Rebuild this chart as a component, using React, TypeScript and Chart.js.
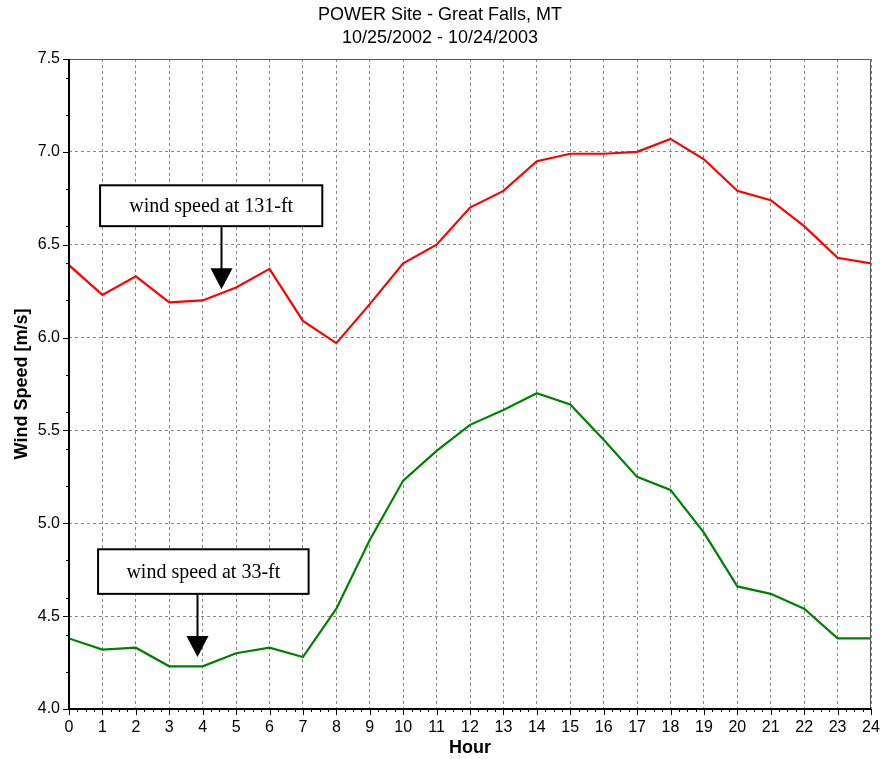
import React, { useEffect, useRef } from "react";
import { Chart, registerables } from "chart.js";

Chart.register(...registerables);

const hours: number[] = Array.from({ length: 25 }, (_, i) => i);
const speed131ft: number[] = [
  6.39, 6.23, 6.33, 6.19, 6.2, 6.27, 6.37, 6.09, 5.97, 6.18, 6.4, 6.5, 6.7,
  6.79, 6.95, 6.99, 6.99, 7.0, 7.07, 6.96, 6.79, 6.74, 6.6, 6.43, 6.4,
];
const speed33ft: number[] = [
  4.38, 4.32, 4.33, 4.23, 4.23, 4.3, 4.33, 4.28, 4.54, 4.91, 5.23, 5.39, 5.53,
  5.61, 5.7, 5.64, 5.45, 5.25, 5.18, 4.95, 4.66, 4.62, 4.54, 4.38, 4.38,
];
const titleLines: string[] = ["POWER Site - Great Falls, MT", "10/25/2002 - 10/24/2003"];
const annotationLabels: string[] = ["wind speed at 131-ft", "wind speed at 33-ft"];
// annotation anchor: [boxLeftHour, boxTopValue, boxRightHour, boxBottomValue, arrowHour, arrowTipValue]
const annotation131: number[] = [0.93, 6.82, 7.58, 6.6, 4.54, 6.26];
const annotation33: number[] = [0.87, 4.86, 7.17, 4.62, 3.82, 4.28];

const frameAndNotes = {
  id: "frameAndNotes",
  afterDraw(chart: any) {
    const { ctx, chartArea: a, scales } = chart;
    const xs = scales.x;
    const ys = scales.y;
    ctx.save();
    // frame
    ctx.strokeStyle = "#555";
    ctx.lineWidth = 1;
    ctx.beginPath();
    ctx.moveTo(a.left, a.top + 0.5);
    ctx.lineTo(a.right - 0.5, a.top + 0.5);
    ctx.lineTo(a.right - 0.5, a.bottom);
    ctx.stroke();
    ctx.strokeStyle = "#000";
    ctx.lineWidth = 2;
    ctx.beginPath();
    ctx.moveTo(a.left, a.top);
    ctx.lineTo(a.left, a.bottom);
    ctx.lineTo(a.right, a.bottom);
    ctx.stroke();
    // x ticks
    ctx.lineWidth = 1;
    for (let h = 0; h <= 24; h++) {
      const x = Math.round(xs.getPixelForValue(h)) + 0.5;
      ctx.beginPath();
      ctx.moveTo(x, a.bottom);
      ctx.lineTo(x, a.bottom + 6);
      ctx.stroke();
      if (h < 24) {
        for (let k = 1; k < 4; k++) {
          const xm = Math.round(xs.getPixelForValue(h + k / 4)) + 0.5;
          ctx.beginPath();
          ctx.moveTo(xm, a.bottom);
          ctx.lineTo(xm, a.bottom + 3);
          ctx.stroke();
        }
      }
    }
    // y ticks
    for (let i = 0; i <= 35; i++) {
      const v = 4 + i * 0.1;
      const major = i % 5 === 0;
      if (!major && i % 2 !== 0) continue;
      const y = Math.round(ys.getPixelForValue(v)) + 0.5;
      ctx.beginPath();
      ctx.moveTo(a.left - (major ? 6 : 3), y);
      ctx.lineTo(a.left, y);
      ctx.stroke();
    }
    // annotations
    const notes = [
      { label: annotationLabels[0], p: annotation131 },
      { label: annotationLabels[1], p: annotation33 },
    ];
    ctx.font = "20px 'Liberation Serif', 'DejaVu Serif', serif";
    ctx.textAlign = "center";
    ctx.textBaseline = "middle";
    for (const n of notes) {
      const l = xs.getPixelForValue(n.p[0]);
      const t = ys.getPixelForValue(n.p[1]);
      const r = xs.getPixelForValue(n.p[2]);
      const b = ys.getPixelForValue(n.p[3]);
      const ax = Math.round(xs.getPixelForValue(n.p[4])) + 0.5;
      const tip = ys.getPixelForValue(n.p[5]);
      ctx.fillStyle = "#fff";
      ctx.fillRect(l, t, r - l, b - t);
      ctx.strokeStyle = "#000";
      ctx.lineWidth = 2;
      ctx.strokeRect(l, t, r - l, b - t);
      ctx.fillStyle = "#000";
      ctx.fillText(n.label, (l + r) / 2, (t + b) / 2 + 1);
      ctx.lineWidth = 2;
      ctx.beginPath();
      ctx.moveTo(ax, b);
      ctx.lineTo(ax, tip - 16);
      ctx.stroke();
      ctx.beginPath();
      ctx.moveTo(ax - 11, tip - 21);
      ctx.lineTo(ax + 11, tip - 21);
      ctx.lineTo(ax, tip);
      ctx.closePath();
      ctx.fill();
    }
    ctx.restore();
  },
};

export default function App() {
  const ref = useRef<HTMLCanvasElement>(null);
  useEffect(() => {
    if (!ref.current) return;
    const font = "'Liberation Sans', Arial, sans-serif";
    const chart = new Chart(ref.current, {
      type: "line",
      data: {
        datasets: [
          {
            label: "131-ft",
            data: hours.map((h, i) => ({ x: h, y: speed131ft[i] })),
            borderColor: "#ff0000",
            borderWidth: 2.2,
            pointRadius: 0,
            tension: 0,
          },
          {
            label: "33-ft",
            data: hours.map((h, i) => ({ x: h, y: speed33ft[i] })),
            borderColor: "#008000",
            borderWidth: 2.2,
            pointRadius: 0,
            tension: 0,
          },
        ],
      },
      options: {
        animation: false,
        responsive: false,
        maintainAspectRatio: false,
        layout: { padding: { left: 0, right: 3, top: 0, bottom: 0 } },
        plugins: {
          legend: { display: false },
          tooltip: { enabled: false },
          title: {
            display: true,
            text: titleLines,
            color: "#000",
            font: { family: font, size: 18, weight: "normal", lineHeight: 1.27 },
            padding: { top: 4, bottom: 9.3 },
          },
        },
        scales: {
          x: {
            type: "linear",
            min: 0,
            max: 24,
            afterFit: (s: any) => {
              s.height = 50;
              s.paddingLeft = 0;
              s.paddingRight = 12;
            },
            ticks: { stepSize: 1, color: "#000", font: { family: font, size: 16, lineHeight: 1 }, padding: 11 },
            grid: { color: "#888", drawTicks: false },
            border: { display: false, dash: [3, 3] },
            title: {
              display: true,
              text: "Hour",
              color: "#000",
              font: { family: font, size: 18, weight: "bold" },
              padding: { top: 0, bottom: 0 },
            },
          },
          y: {
            min: 4,
            max: 7.5,
            afterFit: (s: any) => {
              s.width = 69;
              s.paddingTop = 0;
              s.paddingBottom = 0;
            },
            ticks: {
              stepSize: 0.5,
              color: "#000",
              font: { family: font, size: 16 },
              padding: 9,
              callback: (v: any) => Number(v).toFixed(1),
            },
            grid: { color: "#888", drawTicks: false },
            border: { display: false, dash: [3, 3] },
            title: {
              display: true,
              text: "Wind Speed [m/s]",
              color: "#000",
              font: { family: font, size: 18, weight: "bold" },
              padding: { top: 11, bottom: 0 },
            },
          },
        },
      } as any,
      plugins: [frameAndNotes],
    });
    return () => chart.destroy();
  }, []);
  return (
    <div style={{ position: "absolute", left: 0, top: 0, width: 883, height: 759, background: "#fff" }}>
      <canvas ref={ref} width={883} height={759} style={{ display: "block" }} />
    </div>
  );
}
